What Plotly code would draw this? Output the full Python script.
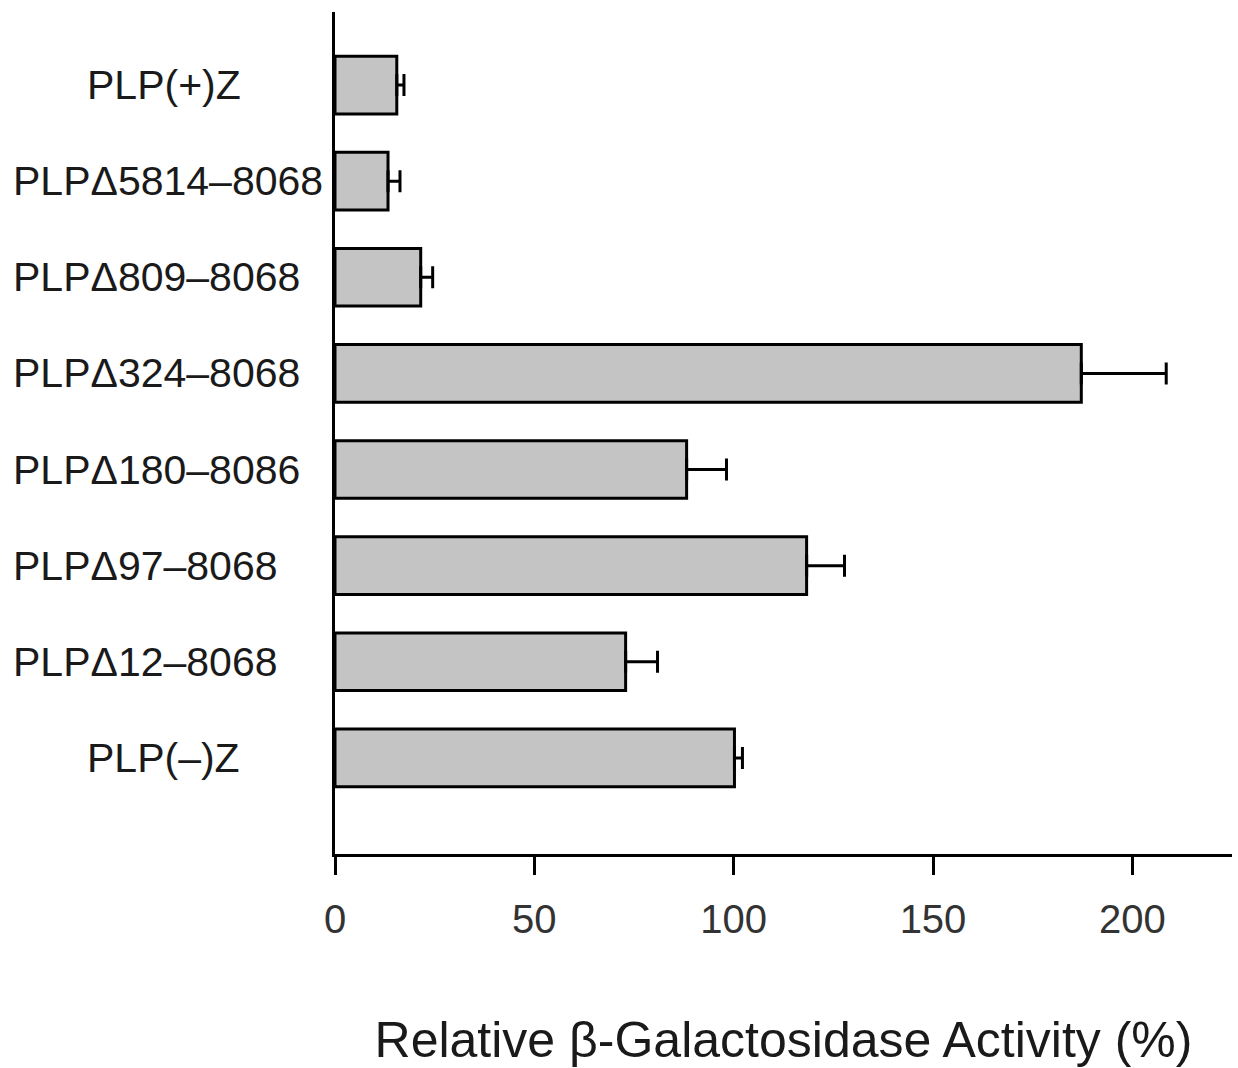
import plotly.graph_objects as go

# Data (top to bottom as drawn)
labels = ["PLP(+)Z", "PLPΔ5814–8068", "PLPΔ809–8068", "PLPΔ324–8068",
          "PLPΔ180–8086", "PLPΔ97–8068", "PLPΔ12–8068", "PLP(–)Z"]
activity = [15.5, 13.3, 21.5, 187.2, 88.2, 118.3, 72.9, 100.2]
error_plus = [1.8, 3.0, 3.0, 21.3, 10.0, 9.5, 8.0, 2.0]
x_ticks = [0, 50, 100, 150, 200]

# Plot from bottom to top
cats = labels[::-1]
vals = activity[::-1]
errs = error_plus[::-1]

FONT = "Liberation Sans, Arial, sans-serif"

fig = go.Figure()
fig.add_trace(go.Bar(
    y=cats, x=vals, orientation="h", width=0.6,
    marker=dict(color="#c4c4c4", line=dict(color="black", width=3)),
    error_x=dict(type="data", symmetric=False, array=errs,
                 arrayminus=[0] * len(errs), color="black",
                 thickness=3, width=11),
    showlegend=False,
))

# Category labels as annotations (left-aligned, the two controls indented)
centered = {"PLP(+)Z", "PLP(–)Z"}
for lab in labels:
    fig.add_annotation(
        x=-0.279 if lab in centered else -0.361, xref="paper",
        y=lab, yref="y", text=lab, showarrow=False,
        xanchor="left", yanchor="middle",
        font=dict(family=FONT, size=41, color="#1a1a1a"),
    )

fig.update_layout(
    width=1238, height=1068, autosize=False,
    margin=dict(l=335, r=6, t=12, b=214),
    plot_bgcolor="white", paper_bgcolor="white",
    bargap=0.4,
)
fig.update_xaxes(
    range=[0, 225], tickvals=x_ticks, ticktext=[str(v) for v in x_ticks],
    showgrid=False, zeroline=False, automargin=False,
    showline=True, linecolor="black", linewidth=3,
    ticks="outside", ticklen=18, tickwidth=3, tickcolor="black",
    ticklabelstandoff=10,
    tickfont=dict(family=FONT, size=40, color="#333333"),
    title=dict(text="Relative β-Galactosidase Activity (%)",
               font=dict(family=FONT, size=50, color="#1a1a1a"), standoff=88),
)
fig.update_yaxes(
    type="category", categoryorder="array", categoryarray=cats,
    range=[-1, 7.76], showgrid=False, zeroline=False, automargin=False,
    showline=True, linecolor="black", linewidth=3,
    showticklabels=False, ticks="",
)

fig.write_html("out.html",
               config={"displayModeBar": False},
               post_script="document.body.style.margin='0';document.body.style.overflow='hidden';")
